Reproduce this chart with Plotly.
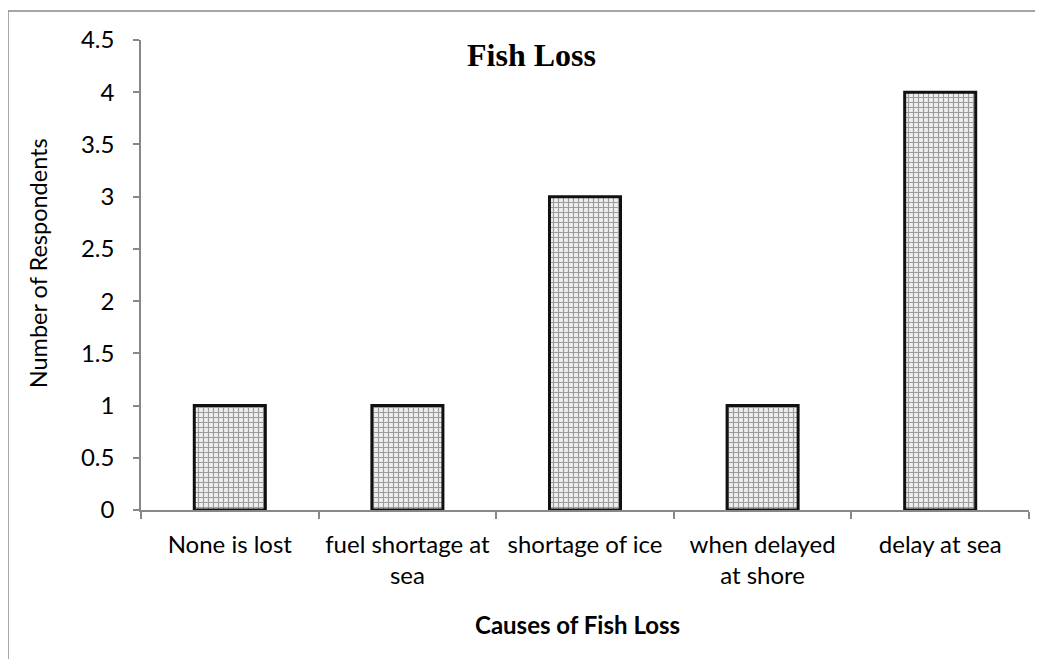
import plotly.graph_objects as go

categories = ["None is lost", "fuel shortage at<br>sea", "shortage of ice", "when delayed<br>at shore", "delay at sea"]
values = [1, 1, 3, 1, 4]
y_ticks = [0, 0.5, 1, 1.5, 2, 2.5, 3, 3.5, 4, 4.5]
y_tick_text = ["0", "0.5", "1", "1.5", "2", "2.5", "3", "3.5", "4", "4.5"]

fig = go.Figure()
fig.add_trace(go.Bar(
    x=categories, y=values, width=0.4,
    marker=dict(
        color="#cfcfcf",
        line=dict(color="#111111", width=3),
        pattern=dict(shape="+", fgcolor="#4a4a4a", bgcolor="#eeeeee", size=5, solidity=0.42),
    ),
))

# page body adds 8px offset; plot area on screen: x 141-1029, y 40-510
fig.update_layout(
    width=1043, height=659,
    margin=dict(l=133, r=22, t=32, b=157, autoexpand=False),
    paper_bgcolor="white", plot_bgcolor="white",
    showlegend=False,
    font=dict(family="Lato, Open Sans, sans-serif", size=24, color="#000000"),
    annotations=[
        dict(text="<b>Fish Loss</b>", xref="paper", yref="paper", x=0.44, y=0.968,
             xanchor="center", yanchor="middle", showarrow=False,
             font=dict(family="Liberation Serif, Times New Roman, serif", size=32, color="#000")),
        dict(text="Number of Respondents", xref="paper", yref="paper", x=-0.116, y=0.525,
             xanchor="center", yanchor="middle", textangle=-90, showarrow=False,
             font=dict(size=23.5, color="#000")),
        dict(text="<b>Causes of Fish Loss</b>", xref="paper", yref="paper", x=0.492, y=-0.2426,
             xanchor="center", yanchor="middle", showarrow=False,
             font=dict(size=24, color="#000")),
    ],
    shapes=[
        dict(type="rect", xref="paper", yref="paper", x0=-0.1498, x1=1.05, y0=-0.5, y1=1.0617,
             line=dict(color="#888888", width=1.5), fillcolor="rgba(0,0,0,0)", layer="below"),
    ],
)

fig.update_xaxes(
    showline=True, linecolor="#888888", linewidth=1.5,
    ticks="outside", tickson="boundaries", ticklen=7, tickcolor="#888888", tickwidth=1.5,
    ticklabelstandoff=12,
    showgrid=False,
    tickfont=dict(size=24),
)
fig.update_yaxes(
    range=[0, 4.5], tickvals=y_ticks, ticktext=y_tick_text,
    showline=True, linecolor="#888888", linewidth=1.5,
    ticks="outside", ticklen=6, tickcolor="#888888", tickwidth=1.5,
    ticklabelstandoff=14,
    showgrid=False, zeroline=False,
    tickfont=dict(size=24),
)

fig.write_html("out.html")
